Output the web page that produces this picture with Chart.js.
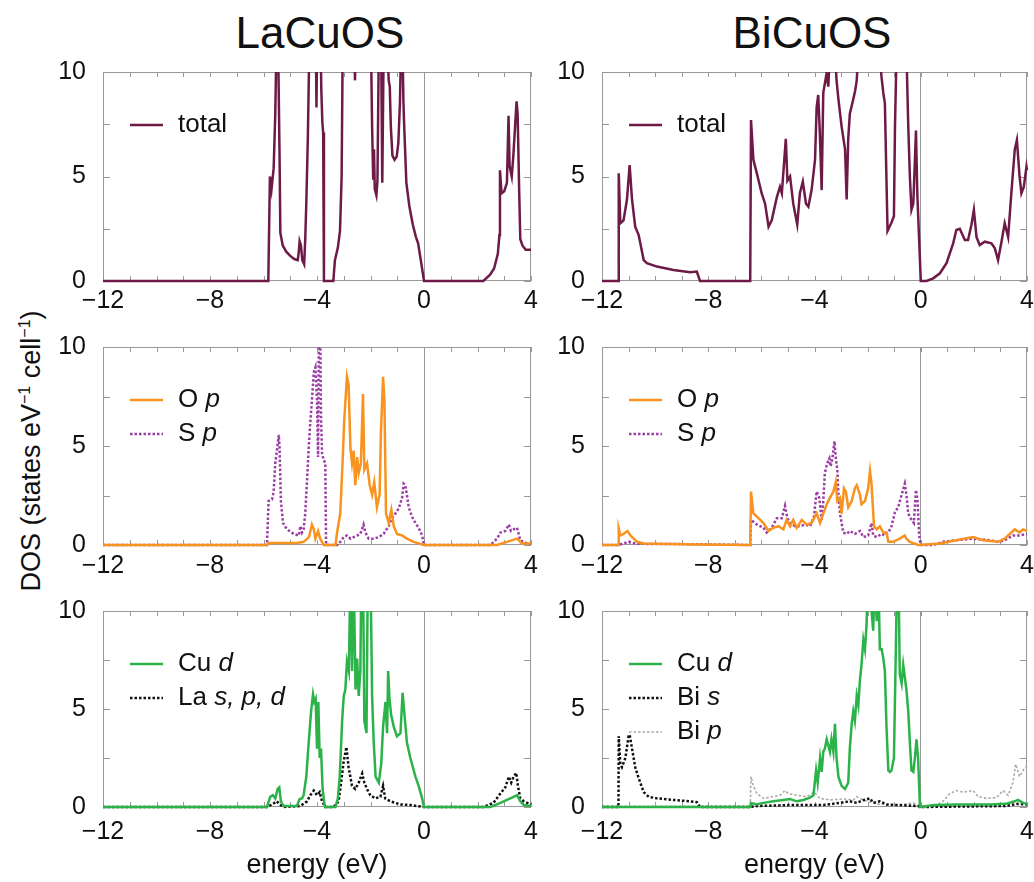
<!DOCTYPE html>
<html>
<head>
<meta charset="utf-8">
<script src="https://cdn.jsdelivr.net/npm/chart.js@4.4.1/dist/chart.umd.min.js"></script>
<style>
  html, body { margin: 0; padding: 0; background: #fff; overflow: hidden; }
  body { width: 1034px; height: 882px; position: relative; font-family: "Liberation Sans", Arial, sans-serif; color: #111; }
  canvas { position: absolute; }
  .ptitle { position: absolute; top: 11px; font-size: 44px; line-height: 44px; transform: translateX(-50%); white-space: nowrap; }
  #ytitle { position: absolute; left: 31px; top: 451px; font-size: 27px; line-height: 27px; white-space: nowrap;
            transform: translate(-50%, -50%) rotate(-90deg); }
  #ytitle sup { font-size: 16px; line-height: 0; vertical-align: 10px; }
</style>
</head>
<body>
<div class="ptitle" style="left:320px">LaCuOS</div>
<div class="ptitle" style="left:812px">BiCuOS</div>
<div id="ytitle">DOS (states eV<sup>&minus;1</sup> cell<sup>&minus;1</sup>)</div>
<canvas id="c0" width="511" height="315" style="left:40px;top:0px"></canvas>
<canvas id="c1" width="507" height="315" style="left:540px;top:0px"></canvas>
<canvas id="c2" width="511" height="264" style="left:40px;top:315px"></canvas>
<canvas id="c3" width="507" height="264" style="left:540px;top:315px"></canvas>
<canvas id="c4" width="511" height="303" style="left:40px;top:579px"></canvas>
<canvas id="c5" width="507" height="303" style="left:540px;top:579px"></canvas>
<script>
// tick labels
const energyTicks = [-12, -8, -4, 0, 4];
const dosTicks = [0, 5, 10];

// DOS curves, [energy (eV), DOS]
const laTotal = [[-12,0],[-5.82,0],[-5.76,5.0],[-5.70,4.4],[-5.62,5.4],[-5.56,8.0],[-5.52,11],[-5.45,11],[-5.40,6],[-5.37,2.3],[-5.28,1.7],[-5.15,1.4],[-5.0,1.2],[-4.85,1.05],[-4.72,1.0],[-4.68,1.4],[-4.65,1.9],[-4.60,1.7],[-4.55,1.0],[-4.48,0.8],[-4.44,2.0],[-4.40,3.7],[-4.34,7],[-4.29,11],[-4.04,11],[-4.02,8.3],[-4.0,11],[-3.86,11],[-3.84,9.2],[-3.80,7.6],[-3.77,7.1],[-3.74,0],[-3.39,0],[-3.33,1.0],[-3.22,1.6],[-3.14,2.4],[-3.08,5],[-3.04,11],[-2.60,11],[-2.58,9.6],[-2.56,11],[-1.98,11],[-1.94,7.4],[-1.90,4.9],[-1.87,6.3],[-1.84,4.4],[-1.78,4.1],[-1.74,4.8],[-1.69,11],[-1.60,11],[-1.56,4.7],[-1.51,11],[-1.36,11],[-1.32,9.6],[-1.28,9.3],[-1.24,7.4],[-1.18,6.0],[-1.1,5.8],[-1.02,5.95],[-0.96,6.6],[-0.9,8.5],[-0.86,11],[-0.80,11],[-0.77,8.6],[-0.74,7.4],[-0.66,4.7],[-0.55,3.6],[-0.42,2.7],[-0.3,2.1],[-0.22,1.8],[-0.12,1.0],[0,0],[2.22,0],[2.47,0.3],[2.62,0.6],[2.76,1.3],[2.82,2.2],[2.84,5.3],[2.9,4.2],[3.0,4.3],[3.1,4.7],[3.16,7.9],[3.2,5.5],[3.28,5.0],[3.34,6.0],[3.4,7.3],[3.46,8.6],[3.5,8.0],[3.56,4.2],[3.6,2.0],[3.68,1.7],[3.8,1.5],[4,1.5]];
const biTotal = [[-12,0],[-11.38,0],[-11.37,5.15],[-11.31,2.76],[-11.19,2.9],[-11.06,3.9],[-10.96,5.55],[-10.87,3.9],[-10.75,2.6],[-10.62,2.2],[-10.43,1.0],[-10.31,0.85],[-9.93,0.69],[-9.31,0.53],[-8.68,0.42],[-8.43,0.45],[-8.31,0],[-6.42,0],[-6.39,7.7],[-6.30,5.8],[-6.17,5.15],[-5.99,4.2],[-5.86,3.7],[-5.73,2.6],[-5.61,2.9],[-5.42,4.0],[-5.30,4.5],[-5.23,4.2],[-5.08,6.8],[-5.02,4.8],[-4.92,5.0],[-4.80,3.7],[-4.65,2.7],[-4.55,4.2],[-4.44,4.75],[-4.32,3.7],[-4.23,3.56],[-4.11,4.35],[-3.98,5.8],[-3.92,8.3],[-3.86,8.9],[-3.80,7.1],[-3.73,4.35],[-3.67,9.0],[-3.55,9.9],[-3.48,9.3],[-3.42,11],[-3.23,11],[-3.17,9.6],[-3.10,8.7],[-2.98,7.4],[-2.85,6.3],[-2.79,3.9],[-2.73,6.8],[-2.67,8.0],[-2.54,8.7],[-2.47,9.1],[-2.41,9.6],[-2.35,11],[-1.54,11],[-1.48,9.8],[-1.41,9.0],[-1.35,8.5],[-1.29,4.8],[-1.25,2.4],[-1.10,2.8],[-1.01,3.1],[-0.97,7.4],[-0.91,11],[-0.54,11],[-0.47,7.4],[-0.41,5.0],[-0.35,3.4],[-0.28,3.7],[-0.22,5.8],[-0.18,7.2],[-0.13,4.2],[-0.03,1.0],[0,0],[0.22,0],[0.47,0.13],[0.72,0.37],[0.97,0.85],[1.22,1.8],[1.34,2.44],[1.47,2.5],[1.66,1.96],[1.78,1.96],[1.91,2.7],[2.0,3.4],[2.10,2.1],[2.22,1.72],[2.41,1.88],[2.66,1.8],[2.79,1.56],[2.91,1.0],[3.04,1.88],[3.16,2.76],[3.29,2.1],[3.41,4.2],[3.54,6.3],[3.62,6.75],[3.72,5.0],[3.79,4.2],[3.88,4.5],[3.98,5.47],[4,5.3]];
const laOp = [[-12,0],[-5.87,0],[-5.8,0.1],[-5.0,0.1],[-4.75,0.1],[-4.5,0.16],[-4.3,0.4],[-4.19,1.03],[-4.12,0.79],[-4.06,0.32],[-3.96,0.7],[-3.88,0.32],[-3.75,0],[-3.31,0],[-3.25,0.63],[-3.13,1.6],[-3.05,4.0],[-2.98,6.35],[-2.88,8.5],[-2.82,8.1],[-2.75,4.9],[-2.69,4.13],[-2.63,4.76],[-2.57,3.02],[-2.50,4.44],[-2.44,3.65],[-2.36,4.13],[-2.28,7.62],[-2.23,3.81],[-2.13,4.13],[-2.03,3.02],[-1.94,2.54],[-1.86,3.17],[-1.76,1.9],[-1.66,2.54],[-1.61,5.71],[-1.53,8.49],[-1.48,7.3],[-1.42,1.59],[-1.32,1.11],[-1.22,1.78],[-1.13,0.95],[-1.01,0.56],[-0.82,0.48],[-0.64,0.32],[-0.39,0.16],[0,0],[2.73,0],[3.10,0.16],[3.48,0.32],[3.66,0.08],[4,0.08]];
const laSp = [[-12,0],[-5.87,0],[-5.81,2.22],[-5.68,2.3],[-5.62,2.7],[-5.56,4.13],[-5.50,4.76],[-5.43,5.56],[-5.40,4.92],[-5.35,2.22],[-5.27,1.11],[-5.12,0.79],[-4.87,0.56],[-4.68,0.48],[-4.62,0.95],[-4.56,0.63],[-4.50,0.79],[-4.44,1.59],[-4.37,3.33],[-4.31,4.92],[-4.25,6.19],[-4.19,7.3],[-4.12,8.73],[-4.06,8.97],[-4.0,7.3],[-3.96,4.44],[-3.93,11],[-3.88,11],[-3.85,6.5],[-3.81,4.6],[-3.75,4.29],[-3.69,4.13],[-3.66,0],[-3.25,0],[-3.13,0.16],[-3.0,0.4],[-2.88,0.48],[-2.75,0.32],[-2.63,0.4],[-2.50,0.48],[-2.38,0.56],[-2.26,1.03],[-2.19,0.63],[-2.07,0.32],[-1.88,0.32],[-1.69,0.4],[-1.51,0.56],[-1.32,0.95],[-1.20,1.35],[-1.07,1.59],[-0.95,1.83],[-0.82,2.38],[-0.76,3.1],[-0.70,3.02],[-0.64,2.54],[-0.57,1.9],[-0.45,1.43],[-0.32,1.11],[-0.20,0.87],[-0.07,0.48],[0,0],[2.48,0],[2.73,0.32],[2.86,0.63],[3.04,0.71],[3.17,1.03],[3.25,0.71],[3.35,0.79],[3.48,0.87],[3.60,0.24],[3.85,0.08],[4,0.03]];
const biOp = [[-12,0],[-11.38,0],[-11.37,0.83],[-11.31,0.48],[-11.19,0.56],[-11.04,0.71],[-10.93,0.48],[-10.68,0.16],[-10.43,0.08],[-8.5,0.03],[-6.42,0],[-6.39,2.7],[-6.30,1.59],[-6.17,1.43],[-5.92,1.11],[-5.73,0.71],[-5.55,0.87],[-5.36,0.95],[-5.17,0.79],[-5.05,1.27],[-4.92,0.95],[-4.80,1.27],[-4.67,0.87],[-4.48,1.27],[-4.29,1.03],[-4.11,1.11],[-3.92,1.6],[-3.79,1.11],[-3.67,1.59],[-3.54,2.06],[-3.42,2.38],[-3.29,2.7],[-3.20,3.17],[-3.14,2.22],[-3.04,2.38],[-2.98,1.59],[-2.89,2.86],[-2.82,2.7],[-2.73,1.9],[-2.60,2.22],[-2.48,2.86],[-2.41,3.02],[-2.29,2.54],[-2.23,2.06],[-2.10,2.22],[-1.98,2.86],[-1.91,3.73],[-1.85,3.02],[-1.76,0.95],[-1.66,0.79],[-1.54,0.95],[-1.41,0.63],[-1.29,0.63],[-1.22,0.16],[-1.04,0.16],[-0.79,0.32],[-0.60,0.48],[-0.54,0.32],[-0.41,0.16],[-0.1,0],[0.72,0.08],[1.34,0.24],[1.97,0.4],[2.35,0.24],[2.91,0.16],[3.16,0.32],[3.54,0.79],[3.72,0.63],[3.85,0.79],[4,0.71]];
const biSp = [[-12,0],[-11.38,0],[-11.19,0.08],[-11.0,0.16],[-10.7,0.06],[-8.5,0.04],[-6.42,0],[-6.39,1.27],[-6.17,1.03],[-5.92,0.87],[-5.80,0.63],[-5.61,0.87],[-5.42,1.35],[-5.23,1.35],[-5.11,1.98],[-5.02,1.35],[-4.92,1.11],[-4.73,0.95],[-4.54,0.95],[-4.36,1.03],[-4.17,0.95],[-4.02,1.43],[-3.92,2.7],[-3.82,2.38],[-3.73,1.27],[-3.67,2.22],[-3.61,3.65],[-3.52,4.13],[-3.44,4.37],[-3.39,3.97],[-3.32,4.44],[-3.25,5.24],[-3.19,4.29],[-3.14,3.81],[-3.10,2.54],[-3.04,1.59],[-2.92,0.63],[-2.79,0.56],[-2.67,0.71],[-2.48,0.56],[-2.29,0.71],[-2.16,0.4],[-1.98,0.48],[-1.85,1.11],[-1.79,0.48],[-1.66,0.4],[-1.47,0.56],[-1.35,0.48],[-1.22,0.63],[-1.10,0.95],[-0.97,1.67],[-0.85,1.9],[-0.72,2.54],[-0.60,3.1],[-0.54,2.54],[-0.47,1.59],[-0.35,1.27],[-0.26,1.11],[-0.18,2.78],[-0.12,2.22],[-0.06,0.48],[0,0],[0.47,0],[0.84,0.16],[1.34,0.24],[1.97,0.32],[2.60,0.24],[2.91,0.16],[3.16,0.24],[3.47,0.48],[3.72,0.48],[4,0.56]];
const laCud = [[-12,0],[-5.87,0],[-5.75,0.52],[-5.65,0.6],[-5.56,0.44],[-5.47,0.92],[-5.41,1.0],[-5.35,0.29],[-5.25,0.05],[-4.75,0.05],[-4.65,0.41],[-4.56,0.44],[-4.5,0.6],[-4.40,1.55],[-4.31,3.3],[-4.22,4.88],[-4.15,5.75],[-4.10,5.36],[-4.05,5.52],[-4.0,2.98],[-3.95,5.36],[-3.90,2.5],[-3.85,2.98],[-3.79,0.92],[-3.72,0.13],[-3.69,0],[-3.31,0],[-3.22,0.44],[-3.15,1.55],[-3.06,4.41],[-3.0,5.67],[-2.94,5.99],[-2.88,7.42],[-2.81,6.94],[-2.75,12],[-2.69,6.94],[-2.63,12],[-2.56,5.99],[-2.50,7.58],[-2.44,5.67],[-2.38,6.94],[-2.34,12],[-2.28,12],[-2.23,4.41],[-2.15,3.77],[-2.10,12],[-2.0,12],[-1.94,5.67],[-1.88,3.3],[-1.81,1.55],[-1.69,1.24],[-1.60,2.19],[-1.53,4.09],[-1.44,5.36],[-1.38,3.77],[-1.34,6.94],[-1.29,5.52],[-1.23,4.72],[-1.13,4.09],[-1.01,3.61],[-0.88,3.77],[-0.80,5.83],[-0.73,4.72],[-0.64,3.3],[-0.51,2.5],[-0.32,1.55],[-0.20,1.08],[-0.07,0.44],[0,0],[2.48,0],[2.86,0.21],[3.10,0.36],[3.35,0.52],[3.48,0.6],[3.60,0.29],[3.73,0.1],[4,0.05]];
const laLa = [[-12,0],[-5.87,0],[-5.68,0.13],[-5.50,0.29],[-5.40,0.13],[-5.25,0],[-4.62,0.05],[-4.37,0.29],[-4.25,0.6],[-4.12,0.84],[-4.0,0.6],[-3.90,0.76],[-3.81,0.29],[-3.69,0],[-3.38,0],[-3.19,0.29],[-3.10,1.24],[-3.0,2.35],[-2.90,3.06],[-2.82,2.03],[-2.69,1.08],[-2.57,0.92],[-2.44,1.24],[-2.31,1.71],[-2.23,1.24],[-2.13,0.92],[-2.01,0.6],[-1.82,0.44],[-1.63,0.52],[-1.53,1.08],[-1.45,0.44],[-1.26,0.29],[-0.88,0.13],[-0.51,0.1],[0,0],[2.22,0],[2.60,0.21],[2.85,0.68],[3.04,1.0],[3.17,1.55],[3.26,1.24],[3.35,1.55],[3.45,1.74],[3.51,1.08],[3.60,0.44],[3.73,0.29],[4,0.13]];
const biCud = [[-12,0],[-6.42,0],[-6.39,0.2],[-6.17,0.13],[-5.92,0.21],[-5.55,0.29],[-5.17,0.36],[-4.92,0.41],[-4.67,0.29],[-4.42,0.36],[-4.17,0.48],[-4.04,0.6],[-3.94,1.87],[-3.88,1.24],[-3.79,2.5],[-3.73,1.79],[-3.67,2.82],[-3.61,2.98],[-3.54,3.45],[-3.48,3.14],[-3.42,2.82],[-3.36,3.45],[-3.29,2.82],[-3.23,4.25],[-3.17,2.5],[-3.10,1.55],[-2.98,1.08],[-2.85,0.92],[-2.73,1.24],[-2.67,2.98],[-2.60,4.25],[-2.54,4.88],[-2.48,4.41],[-2.41,5.67],[-2.35,5.2],[-2.29,6.47],[-2.23,7.26],[-2.16,8.53],[-2.10,8.05],[-2.04,9.32],[-1.98,12],[-1.79,9.0],[-1.72,12],[-1.66,9.48],[-1.60,12],[-1.54,8.05],[-1.47,8.05],[-1.41,7.58],[-1.35,6.94],[-1.29,4.09],[-1.22,1.87],[-1.16,1.79],[-1.10,1.87],[-1.01,2.5],[-0.94,7.89],[-0.89,12],[-0.84,12],[-0.79,6.78],[-0.72,6.31],[-0.66,7.26],[-0.60,6.62],[-0.54,5.99],[-0.47,4.88],[-0.41,3.3],[-0.35,1.87],[-0.28,1.79],[-0.22,2.5],[-0.16,3.45],[-0.10,2.5],[-0.03,0],[0.5,0.1],[1.34,0.13],[2.6,0.13],[3.2,0.16],[3.54,0.29],[3.66,0.36],[3.85,0.21],[4,0.16]];
const biBis = [[-12,0],[-11.38,0],[-11.37,3.61],[-11.31,2.19],[-11.25,2.03],[-11.12,2.5],[-11.0,3.61],[-10.96,3.69],[-10.87,2.98],[-10.75,2.03],[-10.62,1.47],[-10.43,0.76],[-10.24,0.52],[-9.93,0.44],[-9.31,0.36],[-8.68,0.29],[-8.43,0.25],[-8.31,0],[-6.42,0],[-6.17,0.05],[-4.92,0.1],[-3.67,0.1],[-3.04,0.21],[-2.67,0.29],[-2.41,0.21],[-2.23,0.32],[-1.91,0.44],[-1.79,0.21],[-1.54,0.29],[-1.29,0.13],[-0.1,0.05],[0,0],[3.16,0.05],[3.66,0.16],[4,0.13]];
const biBip = [[-12,0.03],[-6.42,0.03],[-6.39,1.55],[-6.30,1.08],[-6.17,0.68],[-5.92,0.44],[-5.61,0.52],[-5.30,0.6],[-5.11,0.84],[-4.98,0.68],[-4.67,0.6],[-4.29,0.52],[-4.02,0.76],[-3.79,0.44],[-3.42,0.36],[-2.92,0.41],[-2.54,0.36],[-2.41,0.52],[-2.04,0.29],[-1.66,0.16],[-1.16,0.1],[-0.66,0.13],[-0.28,0.21],[-0.03,0],[0.47,0],[0.84,0.29],[1.09,0.68],[1.34,0.84],[1.59,0.76],[1.97,0.84],[2.16,0.52],[2.47,0.44],[2.85,0.48],[3.10,0.84],[3.29,0.6],[3.47,1.24],[3.57,2.19],[3.72,1.55],[3.85,1.87],[4,2.1]];

const FONT = '"Liberation Sans", Arial, sans-serif';
Chart.defaults.font.family = FONT;
Chart.defaults.color = '#111';

const MAROON = '#6d1a47', ORANGE = '#f8931f', PURPLE = '#9b3fa6', GREEN = '#2bb34a', BLACK = '#111', GREY = '#aaaaaa';

// frame + inward ticks, gnuplot style
const framePlugin = {
  id: 'frame',
  beforeDatasetsDraw(chart) {
    const { ctx, chartArea: a, scales: { x, y } } = chart;
    ctx.save();
    ctx.strokeStyle = '#999';
    ctx.lineWidth = 1;
    ctx.strokeRect(a.left + 0.5, a.top + 0.5, a.right - a.left - 1, a.bottom - a.top - 1);
    ctx.beginPath();
    x.ticks.forEach(t => {
      const px = Math.round(x.getPixelForValue(t.value)) + 0.5;
      ctx.moveTo(px, a.top); ctx.lineTo(px, a.top + 5);
      ctx.moveTo(px, a.bottom); ctx.lineTo(px, a.bottom - 5);
    });
    y.ticks.forEach(t => {
      const py = Math.round(y.getPixelForValue(t.value)) + 0.5;
      ctx.moveTo(a.left, py); ctx.lineTo(a.left + 7, py);
      ctx.moveTo(a.right, py); ctx.lineTo(a.right - 7, py);
    });
    ctx.stroke();
    ctx.restore();
  }
};

// key inside the plot, with italic orbital letters
const keyPlugin = {
  id: 'key',
  afterDatasetsDraw(chart) {
    const { ctx, chartArea: a } = chart;
    chart.data.datasets.forEach((ds, i) => {
      const yy = a.top + 53 + 34 * i;
      ctx.save();
      ctx.strokeStyle = ds.borderColor;
      ctx.lineWidth = ds.borderWidth;
      ctx.setLineDash(ds.borderDash || []);
      ctx.beginPath();
      ctx.moveTo(a.left + 27, yy);
      ctx.lineTo(a.left + 60, yy);
      ctx.stroke();
      ctx.fillStyle = '#111';
      ctx.textBaseline = 'middle';
      ctx.font = '26px ' + FONT;
      const head = ds.orb ? ds.label + ' ' : ds.label;
      ctx.fillText(head, a.left + 75, yy);
      if (ds.orb) {
        const w = ctx.measureText(head).width;
        ctx.font = 'italic 26px ' + FONT;
        ctx.fillText(ds.orb, a.left + 75 + w, yy);
      }
      ctx.restore();
    });
  }
};

function line(label, orb, pts, color, dotted, width) {
  return {
    label, orb,
    data: pts.map(p => ({ x: p[0], y: p[1] })),
    borderColor: color,
    borderWidth: width || 2.5,
    borderDash: dotted ? [2.5, 2] : [],
    pointRadius: 0,
    tension: 0,
    fill: false,
    clip: { left: 2, top: 0, right: 2, bottom: 3 }
  };
}

function panel(id, col, padTop, axisH, sets, xTitle, labelPad) {
  new Chart(document.getElementById(id), {
    type: 'line',
    data: { datasets: sets },
    options: {
      responsive: false,
      animation: false,
      events: [],
      layout: { padding: { top: padTop, left: 0, right: 20, bottom: 0 } },
      plugins: { legend: { display: false }, tooltip: { enabled: false } },
      scales: {
        x: {
          type: 'linear', min: -12, max: 4,
          border: { display: false },
          grid: { drawTicks: false, lineWidth: 1,
                  color: c => (c.tick && c.tick.value === 0) ? '#999' : 'rgba(0,0,0,0)' },
          ticks: { stepSize: 1, autoSkip: false, maxRotation: 0, padding: labelPad,
                   font: { size: 25 }, color: '#111',
                   callback: v => energyTicks.includes(v) ? (v < 0 ? '\u2212' + (-v) : String(v)) : '' },
          title: xTitle ? { display: true, text: xTitle, font: { size: 27 }, color: '#111',
                            padding: { top: 0, bottom: 0 } } : { display: false },
          afterFit: s => { s.height = axisH; }
        },
        y: {
          min: 0, max: 10,
          border: { display: false },
          grid: { drawTicks: false, color: 'rgba(0,0,0,0)' },
          ticks: { stepSize: 2.5, padding: 17, font: { size: 25 }, color: '#111',
                   callback: v => dosTicks.includes(v) ? String(v) : '' },
          afterFit: s => { s.width = col === 0 ? 63 : 62; }
        }
      }
    },
    plugins: [framePlugin, keyPlugin]
  });
}

panel('c0', 0, 72, 34, [line('total', '', laTotal, MAROON, false)], null, 5);
panel('c1', 1, 72, 34, [line('total', '', biTotal, MAROON, false)], null, 5);
panel('c2', 0, 20, 34, [line('O', 'p', laOp, ORANGE, false), line('S', 'p', laSp, PURPLE, true)], null, 6);
panel('c3', 1, 20, 34, [line('O', 'p', biOp, ORANGE, false), line('S', 'p', biSp, PURPLE, true)], null, 6);
panel('c4', 0, 18, 75, [line('Cu', 'd', laCud, GREEN, false), line('La', 's, p, d', laLa, BLACK, true)], 'energy (eV)', 10);
panel('c5', 1, 18, 75, [line('Cu', 'd', biCud, GREEN, false), line('Bi', 's', biBis, BLACK, true), line('Bi', 'p', biBip, GREY, true, 1.6)], 'energy (eV)', 10);
</script>
</body>
</html>
